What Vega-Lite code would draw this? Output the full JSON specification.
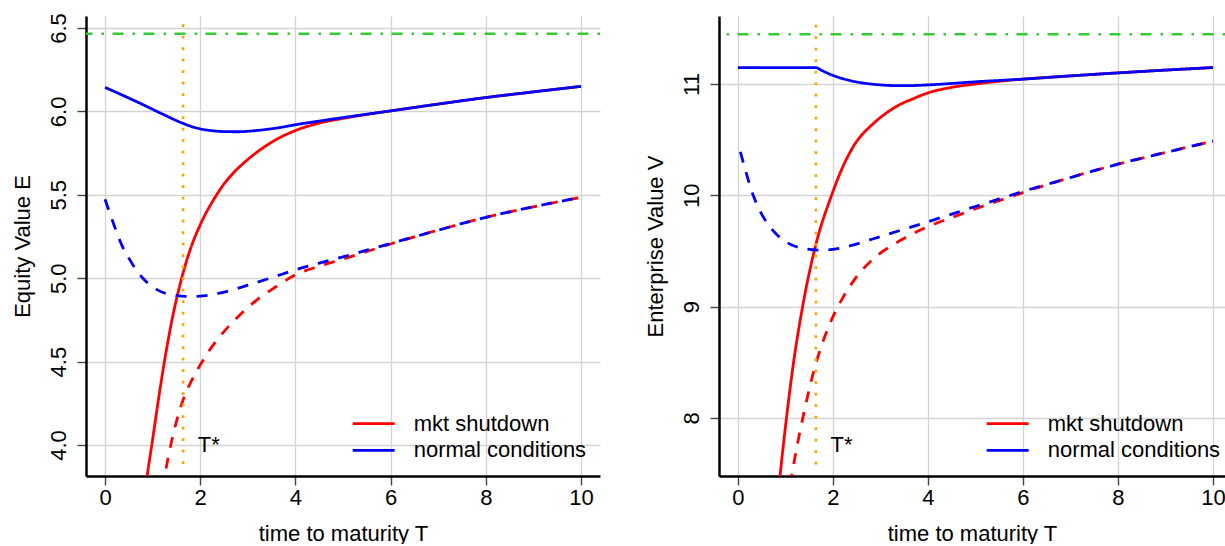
{
  "$schema": "https://vega.github.io/schema/vega-lite/v6.json",
  "padding": {"left": 11, "top": 12, "right": -1, "bottom": 0},
  "background": "white",
  "bounds": "flush",
  "spacing": 119,
  "datasets": {
    "equity": [
      {"T": 0.83, "value": 3.70, "scenario": "mkt shutdown", "set": "1"},
      {"T": 0.89, "value": 3.826, "scenario": "mkt shutdown", "set": "1"},
      {"T": 0.995, "value": 4.024, "scenario": "mkt shutdown", "set": "1"},
      {"T": 1.1, "value": 4.23, "scenario": "mkt shutdown", "set": "1"},
      {"T": 1.23, "value": 4.47, "scenario": "mkt shutdown", "set": "1"},
      {"T": 1.4, "value": 4.74, "scenario": "mkt shutdown", "set": "1"},
      {"T": 1.61, "value": 5.0, "scenario": "mkt shutdown", "set": "1"},
      {"T": 1.8, "value": 5.18, "scenario": "mkt shutdown", "set": "1"},
      {"T": 2.0, "value": 5.32, "scenario": "mkt shutdown", "set": "1"},
      {"T": 2.28, "value": 5.47, "scenario": "mkt shutdown", "set": "1"},
      {"T": 2.5, "value": 5.565, "scenario": "mkt shutdown", "set": "1"},
      {"T": 2.7, "value": 5.632, "scenario": "mkt shutdown", "set": "1"},
      {"T": 3.0, "value": 5.712, "scenario": "mkt shutdown", "set": "1"},
      {"T": 3.4, "value": 5.797, "scenario": "mkt shutdown", "set": "1"},
      {"T": 3.7, "value": 5.847, "scenario": "mkt shutdown", "set": "1"},
      {"T": 4.0, "value": 5.885, "scenario": "mkt shutdown", "set": "1"},
      {"T": 4.5, "value": 5.93, "scenario": "mkt shutdown", "set": "1"},
      {"T": 5.0, "value": 5.958, "scenario": "mkt shutdown", "set": "1"},
      {"T": 5.5, "value": 5.982, "scenario": "mkt shutdown", "set": "1"},
      {"T": 6.0, "value": 6.003, "scenario": "mkt shutdown", "set": "1"},
      {"T": 7.0, "value": 6.044, "scenario": "mkt shutdown", "set": "1"},
      {"T": 8.0, "value": 6.083, "scenario": "mkt shutdown", "set": "1"},
      {"T": 9.0, "value": 6.117, "scenario": "mkt shutdown", "set": "1"},
      {"T": 10.0, "value": 6.15, "scenario": "mkt shutdown", "set": "1"},

      {"T": 1.2, "value": 3.735, "scenario": "mkt shutdown", "set": "2"},
      {"T": 1.26, "value": 3.826, "scenario": "mkt shutdown", "set": "2"},
      {"T": 1.33, "value": 3.93, "scenario": "mkt shutdown", "set": "2"},
      {"T": 1.4, "value": 4.024, "scenario": "mkt shutdown", "set": "2"},
      {"T": 1.5, "value": 4.14, "scenario": "mkt shutdown", "set": "2"},
      {"T": 1.64, "value": 4.27, "scenario": "mkt shutdown", "set": "2"},
      {"T": 1.8, "value": 4.375, "scenario": "mkt shutdown", "set": "2"},
      {"T": 2.0, "value": 4.48, "scenario": "mkt shutdown", "set": "2"},
      {"T": 2.2, "value": 4.57, "scenario": "mkt shutdown", "set": "2"},
      {"T": 2.5, "value": 4.68, "scenario": "mkt shutdown", "set": "2"},
      {"T": 2.8, "value": 4.77, "scenario": "mkt shutdown", "set": "2"},
      {"T": 3.2, "value": 4.872, "scenario": "mkt shutdown", "set": "2"},
      {"T": 3.6, "value": 4.95, "scenario": "mkt shutdown", "set": "2"},
      {"T": 4.0, "value": 5.02, "scenario": "mkt shutdown", "set": "2"},
      {"T": 4.5, "value": 5.072, "scenario": "mkt shutdown", "set": "2"},
      {"T": 5.0, "value": 5.115, "scenario": "mkt shutdown", "set": "2"},
      {"T": 5.5, "value": 5.16, "scenario": "mkt shutdown", "set": "2"},
      {"T": 6.0, "value": 5.205, "scenario": "mkt shutdown", "set": "2"},
      {"T": 6.5, "value": 5.248, "scenario": "mkt shutdown", "set": "2"},
      {"T": 7.0, "value": 5.288, "scenario": "mkt shutdown", "set": "2"},
      {"T": 8.0, "value": 5.365, "scenario": "mkt shutdown", "set": "2"},
      {"T": 9.0, "value": 5.428, "scenario": "mkt shutdown", "set": "2"},
      {"T": 10.0, "value": 5.485, "scenario": "mkt shutdown", "set": "2"},

      {"T": 0.0, "value": 6.144, "scenario": "normal conditions", "set": "1"},
      {"T": 0.4, "value": 6.093, "scenario": "normal conditions", "set": "1"},
      {"T": 0.8, "value": 6.04, "scenario": "normal conditions", "set": "1"},
      {"T": 1.2, "value": 5.985, "scenario": "normal conditions", "set": "1"},
      {"T": 1.64, "value": 5.928, "scenario": "normal conditions", "set": "1"},
      {"T": 1.9, "value": 5.902, "scenario": "normal conditions", "set": "1"},
      {"T": 2.2, "value": 5.886, "scenario": "normal conditions", "set": "1"},
      {"T": 2.5, "value": 5.879, "scenario": "normal conditions", "set": "1"},
      {"T": 2.8, "value": 5.878, "scenario": "normal conditions", "set": "1"},
      {"T": 3.2, "value": 5.886, "scenario": "normal conditions", "set": "1"},
      {"T": 3.6, "value": 5.9, "scenario": "normal conditions", "set": "1"},
      {"T": 4.0, "value": 5.92, "scenario": "normal conditions", "set": "1"},
      {"T": 4.5, "value": 5.942, "scenario": "normal conditions", "set": "1"},
      {"T": 5.0, "value": 5.963, "scenario": "normal conditions", "set": "1"},
      {"T": 5.5, "value": 5.983, "scenario": "normal conditions", "set": "1"},
      {"T": 6.0, "value": 6.003, "scenario": "normal conditions", "set": "1"},
      {"T": 7.0, "value": 6.044, "scenario": "normal conditions", "set": "1"},
      {"T": 8.0, "value": 6.083, "scenario": "normal conditions", "set": "1"},
      {"T": 9.0, "value": 6.117, "scenario": "normal conditions", "set": "1"},
      {"T": 10.0, "value": 6.15, "scenario": "normal conditions", "set": "1"},

      {"T": 0.0, "value": 5.473, "scenario": "normal conditions", "set": "2"},
      {"T": 0.1, "value": 5.39, "scenario": "normal conditions", "set": "2"},
      {"T": 0.2, "value": 5.31, "scenario": "normal conditions", "set": "2"},
      {"T": 0.35, "value": 5.2, "scenario": "normal conditions", "set": "2"},
      {"T": 0.5, "value": 5.12, "scenario": "normal conditions", "set": "2"},
      {"T": 0.6, "value": 5.073, "scenario": "normal conditions", "set": "2"},
      {"T": 0.7, "value": 5.032, "scenario": "normal conditions", "set": "2"},
      {"T": 0.8, "value": 4.998, "scenario": "normal conditions", "set": "2"},
      {"T": 0.9, "value": 4.97, "scenario": "normal conditions", "set": "2"},
      {"T": 1.0, "value": 4.948, "scenario": "normal conditions", "set": "2"},
      {"T": 1.1, "value": 4.93, "scenario": "normal conditions", "set": "2"},
      {"T": 1.3, "value": 4.906, "scenario": "normal conditions", "set": "2"},
      {"T": 1.5, "value": 4.895, "scenario": "normal conditions", "set": "2"},
      {"T": 1.7, "value": 4.891, "scenario": "normal conditions", "set": "2"},
      {"T": 1.9, "value": 4.891, "scenario": "normal conditions", "set": "2"},
      {"T": 2.1, "value": 4.895, "scenario": "normal conditions", "set": "2"},
      {"T": 2.4, "value": 4.91, "scenario": "normal conditions", "set": "2"},
      {"T": 2.7, "value": 4.932, "scenario": "normal conditions", "set": "2"},
      {"T": 3.0, "value": 4.958, "scenario": "normal conditions", "set": "2"},
      {"T": 3.5, "value": 5.003, "scenario": "normal conditions", "set": "2"},
      {"T": 4.0, "value": 5.05, "scenario": "normal conditions", "set": "2"},
      {"T": 4.5, "value": 5.09, "scenario": "normal conditions", "set": "2"},
      {"T": 5.0, "value": 5.128, "scenario": "normal conditions", "set": "2"},
      {"T": 5.5, "value": 5.168, "scenario": "normal conditions", "set": "2"},
      {"T": 6.0, "value": 5.208, "scenario": "normal conditions", "set": "2"},
      {"T": 6.5, "value": 5.248, "scenario": "normal conditions", "set": "2"},
      {"T": 7.0, "value": 5.288, "scenario": "normal conditions", "set": "2"},
      {"T": 8.0, "value": 5.365, "scenario": "normal conditions", "set": "2"},
      {"T": 9.0, "value": 5.428, "scenario": "normal conditions", "set": "2"},
      {"T": 10.0, "value": 5.485, "scenario": "normal conditions", "set": "2"}
    ],
    "enterprise": [
      {"T": 0.86, "value": 7.385, "scenario": "mkt shutdown", "set": "1"},
      {"T": 0.884, "value": 7.479, "scenario": "mkt shutdown", "set": "1"},
      {"T": 1.02, "value": 8.0, "scenario": "mkt shutdown", "set": "1"},
      {"T": 1.17, "value": 8.5, "scenario": "mkt shutdown", "set": "1"},
      {"T": 1.36, "value": 9.0, "scenario": "mkt shutdown", "set": "1"},
      {"T": 1.64, "value": 9.56, "scenario": "mkt shutdown", "set": "1"},
      {"T": 1.97, "value": 10.0, "scenario": "mkt shutdown", "set": "1"},
      {"T": 2.2, "value": 10.25, "scenario": "mkt shutdown", "set": "1"},
      {"T": 2.43, "value": 10.44, "scenario": "mkt shutdown", "set": "1"},
      {"T": 2.85, "value": 10.645, "scenario": "mkt shutdown", "set": "1"},
      {"T": 3.0, "value": 10.7, "scenario": "mkt shutdown", "set": "1"},
      {"T": 3.34, "value": 10.8, "scenario": "mkt shutdown", "set": "1"},
      {"T": 3.7, "value": 10.87, "scenario": "mkt shutdown", "set": "1"},
      {"T": 4.0, "value": 10.92, "scenario": "mkt shutdown", "set": "1"},
      {"T": 4.5, "value": 10.97, "scenario": "mkt shutdown", "set": "1"},
      {"T": 5.0, "value": 11.0, "scenario": "mkt shutdown", "set": "1"},
      {"T": 5.5, "value": 11.025, "scenario": "mkt shutdown", "set": "1"},
      {"T": 6.0, "value": 11.044, "scenario": "mkt shutdown", "set": "1"},
      {"T": 7.0, "value": 11.073, "scenario": "mkt shutdown", "set": "1"},
      {"T": 8.0, "value": 11.1, "scenario": "mkt shutdown", "set": "1"},
      {"T": 9.0, "value": 11.125, "scenario": "mkt shutdown", "set": "1"},
      {"T": 10.0, "value": 11.148, "scenario": "mkt shutdown", "set": "1"},

      {"T": 1.1, "value": 7.40, "scenario": "mkt shutdown", "set": "2"},
      {"T": 1.13, "value": 7.479, "scenario": "mkt shutdown", "set": "2"},
      {"T": 1.2, "value": 7.65, "scenario": "mkt shutdown", "set": "2"},
      {"T": 1.3, "value": 7.87, "scenario": "mkt shutdown", "set": "2"},
      {"T": 1.4, "value": 8.07, "scenario": "mkt shutdown", "set": "2"},
      {"T": 1.5, "value": 8.26, "scenario": "mkt shutdown", "set": "2"},
      {"T": 1.64, "value": 8.49, "scenario": "mkt shutdown", "set": "2"},
      {"T": 1.8, "value": 8.70, "scenario": "mkt shutdown", "set": "2"},
      {"T": 2.0, "value": 8.91, "scenario": "mkt shutdown", "set": "2"},
      {"T": 2.2, "value": 9.075, "scenario": "mkt shutdown", "set": "2"},
      {"T": 2.43, "value": 9.23, "scenario": "mkt shutdown", "set": "2"},
      {"T": 2.85, "value": 9.43, "scenario": "mkt shutdown", "set": "2"},
      {"T": 3.34, "value": 9.575, "scenario": "mkt shutdown", "set": "2"},
      {"T": 4.0, "value": 9.72, "scenario": "mkt shutdown", "set": "2"},
      {"T": 4.5, "value": 9.80, "scenario": "mkt shutdown", "set": "2"},
      {"T": 5.0, "value": 9.88, "scenario": "mkt shutdown", "set": "2"},
      {"T": 5.5, "value": 9.953, "scenario": "mkt shutdown", "set": "2"},
      {"T": 6.0, "value": 10.025, "scenario": "mkt shutdown", "set": "2"},
      {"T": 6.5, "value": 10.095, "scenario": "mkt shutdown", "set": "2"},
      {"T": 7.0, "value": 10.16, "scenario": "mkt shutdown", "set": "2"},
      {"T": 8.0, "value": 10.28, "scenario": "mkt shutdown", "set": "2"},
      {"T": 9.0, "value": 10.385, "scenario": "mkt shutdown", "set": "2"},
      {"T": 10.0, "value": 10.487, "scenario": "mkt shutdown", "set": "2"},

      {"T": 0.0, "value": 11.148, "scenario": "normal conditions", "set": "1"},
      {"T": 1.64, "value": 11.148, "scenario": "normal conditions", "set": "1"},
      {"T": 1.75, "value": 11.125, "scenario": "normal conditions", "set": "1"},
      {"T": 1.9, "value": 11.095, "scenario": "normal conditions", "set": "1"},
      {"T": 2.1, "value": 11.062, "scenario": "normal conditions", "set": "1"},
      {"T": 2.4, "value": 11.027, "scenario": "normal conditions", "set": "1"},
      {"T": 2.7, "value": 11.005, "scenario": "normal conditions", "set": "1"},
      {"T": 3.0, "value": 10.992, "scenario": "normal conditions", "set": "1"},
      {"T": 3.3, "value": 10.986, "scenario": "normal conditions", "set": "1"},
      {"T": 3.6, "value": 10.986, "scenario": "normal conditions", "set": "1"},
      {"T": 4.0, "value": 10.992, "scenario": "normal conditions", "set": "1"},
      {"T": 4.5, "value": 11.005, "scenario": "normal conditions", "set": "1"},
      {"T": 5.0, "value": 11.02, "scenario": "normal conditions", "set": "1"},
      {"T": 5.5, "value": 11.032, "scenario": "normal conditions", "set": "1"},
      {"T": 6.0, "value": 11.044, "scenario": "normal conditions", "set": "1"},
      {"T": 7.0, "value": 11.073, "scenario": "normal conditions", "set": "1"},
      {"T": 8.0, "value": 11.1, "scenario": "normal conditions", "set": "1"},
      {"T": 9.0, "value": 11.125, "scenario": "normal conditions", "set": "1"},
      {"T": 10.0, "value": 11.148, "scenario": "normal conditions", "set": "1"},

      {"T": 0.05, "value": 10.39, "scenario": "normal conditions", "set": "2"},
      {"T": 0.15, "value": 10.235, "scenario": "normal conditions", "set": "2"},
      {"T": 0.32, "value": 10.0, "scenario": "normal conditions", "set": "2"},
      {"T": 0.45, "value": 9.87, "scenario": "normal conditions", "set": "2"},
      {"T": 0.6, "value": 9.76, "scenario": "normal conditions", "set": "2"},
      {"T": 0.8, "value": 9.655, "scenario": "normal conditions", "set": "2"},
      {"T": 0.95, "value": 9.6, "scenario": "normal conditions", "set": "2"},
      {"T": 1.1, "value": 9.56, "scenario": "normal conditions", "set": "2"},
      {"T": 1.3, "value": 9.53, "scenario": "normal conditions", "set": "2"},
      {"T": 1.5, "value": 9.514, "scenario": "normal conditions", "set": "2"},
      {"T": 1.64, "value": 9.509, "scenario": "normal conditions", "set": "2"},
      {"T": 1.8, "value": 9.508, "scenario": "normal conditions", "set": "2"},
      {"T": 2.0, "value": 9.515, "scenario": "normal conditions", "set": "2"},
      {"T": 2.2, "value": 9.53, "scenario": "normal conditions", "set": "2"},
      {"T": 2.43, "value": 9.555, "scenario": "normal conditions", "set": "2"},
      {"T": 2.85, "value": 9.61, "scenario": "normal conditions", "set": "2"},
      {"T": 3.34, "value": 9.675, "scenario": "normal conditions", "set": "2"},
      {"T": 4.0, "value": 9.763, "scenario": "normal conditions", "set": "2"},
      {"T": 4.5, "value": 9.832, "scenario": "normal conditions", "set": "2"},
      {"T": 5.0, "value": 9.9, "scenario": "normal conditions", "set": "2"},
      {"T": 5.5, "value": 9.968, "scenario": "normal conditions", "set": "2"},
      {"T": 6.0, "value": 10.035, "scenario": "normal conditions", "set": "2"},
      {"T": 6.5, "value": 10.098, "scenario": "normal conditions", "set": "2"},
      {"T": 7.0, "value": 10.16, "scenario": "normal conditions", "set": "2"},
      {"T": 8.0, "value": 10.28, "scenario": "normal conditions", "set": "2"},
      {"T": 9.0, "value": 10.385, "scenario": "normal conditions", "set": "2"},
      {"T": 10.0, "value": 10.487, "scenario": "normal conditions", "set": "2"}
    ]
  },
  "hconcat": [
    {
      "width": 514,
      "height": 460,
      "layer": [
        {
          "data": {"name": "equity"},
          "transform": [{"filter": "datum.scenario === 'mkt shutdown'"}],
          "mark": {"type": "line", "strokeWidth": 2.8, "clip": true, "strokeCap": "butt", "interpolate": "monotone"},
          "encoding": {
            "x": {"field": "T", "type": "quantitative", "title": "time to maturity T",
              "scale": {"domain": [-0.4, 10.4], "nice": false, "zero": false},
              "axis": {"values": [0, 2, 4, 6, 8, 10], "format": "d", "grid": true, "labelFlush": false, "labelOverlap": false,
                "labelBaseline": "alphabetic", "labelPadding": 19, "titleBaseline": "alphabetic", "titlePadding": 24,
                "minExtent": 40, "maxExtent": 40}},
            "y": {"field": "value", "type": "quantitative", "title": "Equity Value E",
              "scale": {"domain": [3.814, 6.572], "nice": false, "zero": false},
              "axis": {"values": [4, 4.5, 5, 5.5, 6, 6.5], "format": ".1f", "grid": true, "labelOverlap": false, "labelFlush": false,
                "labelAngle": 270, "labelAlign": "center", "labelBaseline": "alphabetic", "labelPadding": 12,
                "titleAngle": 270, "titleBaseline": "alphabetic", "titlePadding": 17, "minExtent": 40, "maxExtent": 40}},
            "color": {"field": "scenario", "type": "nominal",
              "scale": {"domain": ["mkt shutdown", "normal conditions"], "range": ["#FF0000", "#0000FF"]},
              "legend": {"orient": "none", "legendX": 276.7, "legendY": 396.7, "padding": 0, "title": null,
                "symbolType": "M-2.5,0L2.5,0", "symbolSize": 282, "symbolStrokeWidth": 2.8,
                "labelFontSize": 22, "labelOffset": 29, "rowPadding": 4.6, "labelColor": "#000000", "labelLimit": 0}},
            "strokeDash": {"field": "set", "type": "nominal",
              "scale": {"domain": ["1", "2"], "range": [[1, 0], [11, 10]]}, "legend": null}
          }
        },
        {
          "data": {"name": "equity"},
          "transform": [{"filter": "datum.scenario === 'normal conditions'"}],
          "mark": {"type": "line", "strokeWidth": 2.8, "clip": true, "strokeCap": "butt", "interpolate": "monotone"},
          "encoding": {
            "x": {"field": "T", "type": "quantitative", "title": "time to maturity T",
              "scale": {"domain": [-0.4, 10.4], "nice": false, "zero": false}},
            "y": {"field": "value", "type": "quantitative", "title": "Equity Value E",
              "scale": {"domain": [3.814, 6.572], "nice": false, "zero": false}},
            "color": {"field": "scenario", "type": "nominal",
              "scale": {"domain": ["mkt shutdown", "normal conditions"], "range": ["#FF0000", "#0000FF"]}},
            "strokeDash": {"field": "set", "type": "nominal",
              "scale": {"domain": ["1", "2"], "range": [[1, 0], [11, 10]]}, "legend": null}
          }
        },
        {
          "data": {"values": [{"bound": 6.466}]},
          "mark": {"type": "rule", "color": "#33CC33", "strokeWidth": 2.6, "strokeDash": [2.5, 9, 11, 8.5]},
          "encoding": {
            "y": {"field": "bound", "type": "quantitative", "title": "Equity Value E",
              "scale": {"domain": [3.814, 6.572], "nice": false, "zero": false}}
          }
        },
        {
          "data": {"values": [{"Tstar": 1.64, "hi": 6.522, "lo": 3.87}]},
          "mark": {"type": "rule", "color": "#FFA500", "strokeWidth": 2.7, "strokeDash": [2.7, 8.8]},
          "encoding": {
            "x": {"field": "Tstar", "type": "quantitative", "title": "time to maturity T",
              "scale": {"domain": [-0.4, 10.4], "nice": false, "zero": false}},
            "y": {"field": "hi", "type": "quantitative", "title": "Equity Value E",
              "scale": {"domain": [3.814, 6.572], "nice": false, "zero": false}},
            "y2": {"field": "lo"}
          }
        },
        {
          "data": {"values": [{"T": 1.95, "value": 4.0, "label": "T*"}]},
          "mark": {"type": "text", "align": "left", "baseline": "middle", "fontSize": 22, "color": "#000000"},
          "encoding": {
            "x": {"field": "T", "type": "quantitative", "title": "time to maturity T",
              "scale": {"domain": [-0.4, 10.4], "nice": false, "zero": false}},
            "y": {"field": "value", "type": "quantitative", "title": "Equity Value E",
              "scale": {"domain": [3.814, 6.572], "nice": false, "zero": false}},
            "text": {"field": "label"}
          }
        }
      ]
    },
    {
      "width": 506,
      "height": 460,
      "layer": [
        {
          "data": {"name": "enterprise"},
          "transform": [{"filter": "datum.scenario === 'mkt shutdown'"}],
          "mark": {"type": "line", "strokeWidth": 2.8, "clip": true, "strokeCap": "butt", "interpolate": "monotone"},
          "encoding": {
            "x": {"field": "T", "type": "quantitative", "title": "time to maturity T",
              "scale": {"domain": [-0.4, 10.253], "nice": false, "zero": false},
              "axis": {"values": [0, 2, 4, 6, 8, 10], "format": "d", "grid": true, "labelFlush": false, "labelOverlap": false,
                "labelBaseline": "alphabetic", "labelPadding": 19, "titleBaseline": "alphabetic", "titlePadding": 24,
                "minExtent": 40, "maxExtent": 40}},
            "y": {"field": "value", "type": "quantitative", "title": "Enterprise Value V",
              "scale": {"domain": [7.479, 11.611], "nice": false, "zero": false},
              "axis": {"values": [8, 9, 10, 11], "format": "d", "grid": true, "labelOverlap": false, "labelFlush": false,
                "labelAngle": 270, "labelAlign": "center", "labelBaseline": "alphabetic", "labelPadding": 12,
                "titleAngle": 270, "titleBaseline": "alphabetic", "titlePadding": 17, "minExtent": 40, "maxExtent": 40}},
            "color": {"field": "scenario", "type": "nominal",
              "scale": {"domain": ["mkt shutdown", "normal conditions"], "range": ["#FF0000", "#0000FF"]},
              "legend": {"orient": "none", "legendX": 277.7, "legendY": 396.7, "padding": 0, "title": null,
                "symbolType": "M-2.5,0L2.5,0", "symbolSize": 282, "symbolStrokeWidth": 2.8,
                "labelFontSize": 22, "labelOffset": 29, "rowPadding": 4.6, "labelColor": "#000000", "labelLimit": 0}},
            "strokeDash": {"field": "set", "type": "nominal",
              "scale": {"domain": ["1", "2"], "range": [[1, 0], [11, 10]]}, "legend": null}
          }
        },
        {
          "data": {"name": "enterprise"},
          "transform": [{"filter": "datum.scenario === 'normal conditions'"}],
          "mark": {"type": "line", "strokeWidth": 2.8, "clip": true, "strokeCap": "butt", "interpolate": "monotone"},
          "encoding": {
            "x": {"field": "T", "type": "quantitative", "title": "time to maturity T",
              "scale": {"domain": [-0.4, 10.253], "nice": false, "zero": false}},
            "y": {"field": "value", "type": "quantitative", "title": "Enterprise Value V",
              "scale": {"domain": [7.479, 11.611], "nice": false, "zero": false}},
            "color": {"field": "scenario", "type": "nominal",
              "scale": {"domain": ["mkt shutdown", "normal conditions"], "range": ["#FF0000", "#0000FF"]}},
            "strokeDash": {"field": "set", "type": "nominal",
              "scale": {"domain": ["1", "2"], "range": [[1, 0], [11, 10]]}, "legend": null}
          }
        },
        {
          "data": {"values": [{"bound": 11.447}]},
          "mark": {"type": "rule", "color": "#33CC33", "strokeWidth": 2.6, "strokeDash": [2.5, 9, 11, 8.5]},
          "encoding": {
            "y": {"field": "bound", "type": "quantitative", "title": "Enterprise Value V",
              "scale": {"domain": [7.479, 11.611], "nice": false, "zero": false}}
          }
        },
        {
          "data": {"values": [{"Tstar": 1.64, "hi": 11.533, "lo": 7.559}]},
          "mark": {"type": "rule", "color": "#FFA500", "strokeWidth": 2.7, "strokeDash": [2.7, 8.8]},
          "encoding": {
            "x": {"field": "Tstar", "type": "quantitative", "title": "time to maturity T",
              "scale": {"domain": [-0.4, 10.253], "nice": false, "zero": false}},
            "y": {"field": "hi", "type": "quantitative", "title": "Enterprise Value V",
              "scale": {"domain": [7.479, 11.611], "nice": false, "zero": false}},
            "y2": {"field": "lo"}
          }
        },
        {
          "data": {"values": [{"T": 1.95, "value": 7.757, "label": "T*"}]},
          "mark": {"type": "text", "align": "left", "baseline": "middle", "fontSize": 22, "color": "#000000"},
          "encoding": {
            "x": {"field": "T", "type": "quantitative", "title": "time to maturity T",
              "scale": {"domain": [-0.4, 10.253], "nice": false, "zero": false}},
            "y": {"field": "value", "type": "quantitative", "title": "Enterprise Value V",
              "scale": {"domain": [7.479, 11.611], "nice": false, "zero": false}},
            "text": {"field": "label"}
          }
        }
      ]
    }
  ],
  "resolve": {
    "scale": {"color": "independent", "strokeDash": "independent"},
    "legend": {"color": "independent"}
  },
  "config": {
    "font": "Liberation Sans",
    "view": {"stroke": null},
    "axis": {
      "domainColor": "#000000",
      "domainWidth": 2.5,
      "tickColor": "#444444",
      "tickWidth": 1.4,
      "tickSize": 9,
      "gridColor": "#D3D3D3",
      "gridWidth": 1.3,
      "labelFont": "Liberation Sans",
      "titleFont": "Liberation Sans",
      "labelFontSize": 22,
      "titleFontSize": 22,
      "labelColor": "#000000",
      "titleColor": "#000000",
      "titleFontWeight": "normal"
    },
    "legend": {"labelFont": "Liberation Sans"},
    "text": {"font": "Liberation Sans"}
  }
}
